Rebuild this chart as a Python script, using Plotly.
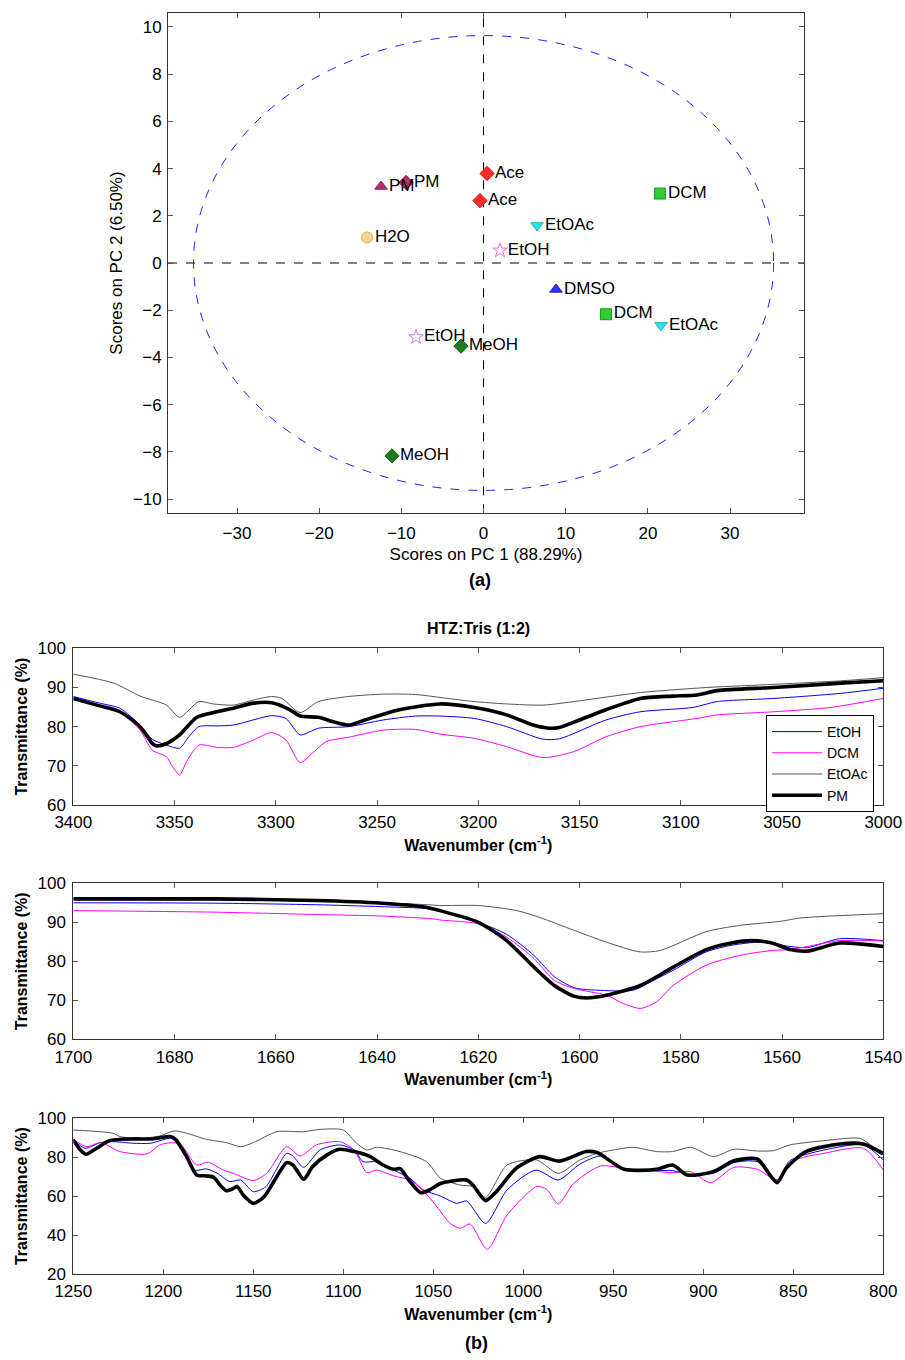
import plotly.graph_objects as go

# ---------------- (a) PCA scores ----------------
sc_labels = ["PM", "PM", "Ace", "Ace", "DCM", "EtOAc", "H2O", "EtOH",
             "DMSO", "DCM", "EtOAc", "EtOH", "MeOH", "MeOH"]
sc_pc1 = [-12.47, -9.43, 0.43, -0.43, 21.48, 6.51, -14.18, 2.0,
          8.82, 14.9, 21.6, -8.21, -2.74, -11.14]
sc_pc2 = [3.24, 3.41, 3.79, 2.64, 2.94, 1.59, 1.08, 0.53,
          -1.12, -2.17, -2.64, -3.14, -3.52, -8.17]
sc_symbols = ["triangle-up", "diamond", "diamond", "diamond", "square", "triangle-down",
              "circle", "star-open", "triangle-up", "square", "triangle-down", "star-open",
              "diamond", "diamond"]
sc_colors = ["#b0306a", "#b0306a", "#ff2a2a", "#ff2a2a", "#33cc33", "#30e0e8",
             "#f8d890", "#e070e0", "#3030ff", "#33cc33", "#30e0e8", "#e070e0",
             "#1e7b1e", "#1e7b1e"]
sc_lines = ["#8a1f50", "#8a1f50", "#e01010", "#e01010", "#1f9a1f", "#20b8c0",
            "#e0a850", "#e070e0", "#2020c0", "#1f9a1f", "#20b8c0", "#e070e0",
            "#145a14", "#145a14"]
ellipse_a = 35.3
ellipse_b = 9.63

# ---------------- (b) FTIR spectra ----------------
# Panel 1: 3400-3000
p1_etoh_w = [3400, 3387, 3377, 3367, 3361, 3354, 3347.5, 3343, 3338, 3329, 3321, 3302, 3295, 3288,
             3279, 3264, 3247, 3231, 3219, 3202, 3186, 3168, 3160, 3137, 3120, 3094, 3082, 3054,
             3021, 3000]
p1_etoh_t = [87.7, 86.0, 84.7, 80.4, 76.8, 75.3, 74.5, 77.4, 80.0, 80.2, 80.4, 82.8, 82.1, 77.9,
             79.6, 80.0, 81.7, 82.7, 82.7, 82.1, 80.0, 76.8, 76.9, 81.7, 83.8, 84.9, 86.4, 87.2,
             88.5, 89.8]
p1_dcm_w = [3400, 3387, 3377, 3367, 3361, 3354, 3351, 3347.5, 3344, 3338, 3329, 3321, 3311, 3302,
            3295, 3288, 3282, 3275, 3264, 3247, 3231, 3219, 3202, 3186, 3168, 3153, 3137, 3120,
            3092, 3082, 3054, 3026, 3000]
p1_dcm_t = [87.2, 85.5, 83.8, 79.1, 74.0, 72.3, 69.8, 67.7, 71.1, 75.3, 74.7, 74.7, 76.6, 78.5,
            76.6, 70.8, 73.2, 76.2, 77.3, 79.1, 79.3, 78.1, 77.0, 74.9, 72.1, 73.6, 77.4, 80.0,
            82.1, 83.0, 83.8, 84.9, 87.2]
p1_etoac_w = [3400, 3380, 3367, 3354, 3347.5, 3338, 3331, 3321, 3311, 3302, 3297, 3288, 3279,
              3264, 3247, 3231, 3215, 3202, 3186, 3168, 3150, 3120, 3087, 3054, 3021, 3000]
p1_etoac_t = [93.4, 91.1, 87.8, 85.5, 82.4, 86.4, 85.8, 85.5, 86.8, 87.7, 87.2, 83.6, 86.4,
              87.7, 88.3, 88.2, 87.2, 86.4, 85.8, 85.5, 86.6, 88.7, 90.0, 90.8, 91.7, 92.5]
p1_pm_w = [3400, 3387, 3377, 3367, 3361, 3359, 3354, 3347.5, 3339, 3329, 3321, 3311, 3302, 3293,
           3288, 3279, 3272, 3264, 3256, 3239, 3219, 3202, 3186, 3173, 3165, 3160, 3150, 3137,
           3120, 3104, 3092, 3082, 3054, 3021, 3000]
p1_pm_t = [87.2, 85.3, 83.8, 80.0, 75.7, 75.1, 75.7, 77.9, 82.4, 83.8, 84.7, 86.0, 86.1, 84.3,
           82.7, 82.4, 81.3, 80.4, 81.7, 84.3, 85.8, 84.9, 83.0, 80.4, 79.6, 79.8, 81.7, 84.3,
           87.2, 87.8, 88.1, 89.2, 90.0, 91.1, 91.7]

# Panel 2: 1700-1540
p2_etoh_w = [1700, 1672, 1652, 1639, 1629, 1627.6, 1620, 1614.4, 1609, 1605, 1601, 1596.6, 1589.4,
             1585.4, 1581.5, 1575, 1570, 1564.4, 1558.4, 1555, 1548.6, 1540]
p2_etoh_t = [95.0, 94.9, 94.5, 94.0, 93.4, 92.8, 90.0, 86.9, 81.5, 76.1, 73.2, 72.6, 72.6,
             75.1, 77.7, 82.4, 84.1, 84.9, 83.8, 83.5, 85.8, 85.3]
p2_dcm_w = [1700, 1672, 1652, 1639, 1629, 1627.6, 1620, 1614.4, 1609, 1605, 1601, 1594.7, 1591.4,
            1588, 1584.8, 1581.5, 1575, 1568.4, 1561.8, 1558.4, 1555, 1548.6, 1540]
p2_dcm_t = [93.0, 92.6, 92.0, 91.6, 90.9, 90.6, 89.6, 86.2, 80.7, 75.1, 73.0, 71.3, 69.2,
            67.9, 69.6, 73.8, 79.0, 81.5, 82.8, 83.0, 83.8, 85.3, 85.2]
p2_etoac_w = [1700, 1660, 1640, 1630, 1627.6, 1620, 1612.4, 1608, 1601, 1594.7, 1588, 1584, 1575,
              1568.4, 1560, 1556.5, 1540]
p2_etoac_t = [95.8, 95.6, 95.0, 94.5, 94.3, 94.3, 93.0, 91.3, 87.9, 84.9, 82.4, 82.8, 87.6,
              89.2, 90.3, 91.1, 92.2]
p2_pm_w = [1700, 1672, 1652, 1639, 1631, 1627.6, 1620, 1614.4, 1609, 1605, 1601, 1598.6, 1594.7,
           1588, 1581.5, 1575, 1570, 1566, 1562, 1558.4, 1555, 1548.6, 1540]
p2_pm_t = [96.0, 96.0, 95.6, 94.9, 94.0, 93.0, 90.0, 85.3, 78.5, 73.8, 71.0, 70.6, 71.3,
           73.8, 78.5, 83.0, 84.7, 85.3, 84.7, 83.0, 82.6, 84.7, 83.8]

# Panel 3: 1250-800
p3_etoh_w = [1250, 1243.5, 1235, 1228, 1217, 1207, 1196, 1192, 1183, 1176, 1170, 1163, 1157, 1150,
             1143, 1131.5, 1128, 1122, 1113, 1102, 1094, 1089, 1081.5, 1072, 1063, 1056, 1046,
             1037, 1031.5, 1021, 1009, 993, 980.6, 968.5, 957, 944, 917, 909, 894.4, 883, 870,
             859, 852, 833, 811, 800]
p3_etoh_t = [89.2, 84.6, 87.5, 88.0, 87.2, 87.2, 89.7, 87.5, 73.4, 74.0, 71.7, 67.5, 68.3, 62.3,
             64.9, 82.0, 80.6, 74.8, 83.7, 86.3, 83.7, 77.7, 77.7, 73.4, 69.2, 63.5, 60.0,
             56.3, 57.5, 46.0, 63.2, 73.4, 68.3, 76.5, 80.6, 73.4, 73.1, 71.4, 71.7, 77.2, 77.7,
             68.3, 78.2, 83.7, 86.3, 78.6]
p3_dcm_w = [1250, 1242.6, 1235, 1224, 1209, 1202, 1194, 1190, 1181.5, 1175, 1166.7, 1161, 1150,
            1142.6, 1131.5, 1124, 1115, 1102, 1094, 1087, 1081.5, 1072, 1063, 1055.6, 1048,
            1040.7, 1035, 1029.6, 1020, 1009, 992.6, 987, 980.6, 972, 957, 944, 917, 907, 896,
            883, 870, 859, 850, 833, 811, 800]
p3_dcm_t = [89.2, 85.4, 87.5, 82.9, 81.7, 86.3, 87.5, 86.3, 76.0, 77.4, 73.4, 71.7, 68.0,
            71.7, 85.4, 80.6, 86.3, 88.0, 83.7, 72.1, 73.4, 70.4, 68.3, 62.8, 54.6,
            46.0, 43.5, 45.7, 32.7, 50.3, 64.9, 63.5, 56.0, 66.6, 75.5, 74.3, 72.1, 72.6, 66.9,
            74.8, 73.8, 68.3, 78.2, 82.0, 84.6, 73.4]
p3_etoac_w = [1250, 1235, 1228, 1224, 1213, 1202, 1194, 1187, 1176, 1165, 1157, 1150, 1137, 1122,
              1113, 1100, 1092.6, 1087, 1081.5, 1068.5, 1053.7, 1046, 1035, 1028, 1021, 1009,
              992.6, 980.6, 968.5, 959, 950, 939, 926, 917, 907, 894.4, 883, 870, 861, 852, 833,
              813, 805.6, 800]
p3_etoac_t = [94.0, 93.1, 92.3, 90.6, 89.7, 90.9, 93.5, 92.3, 89.2, 87.5, 85.4, 87.5, 93.1, 93.1,
              94.3, 94.0, 87.2, 83.7, 85.1, 82.9, 77.7, 69.2, 65.7, 64.9, 59.4, 76.0,
              78.6, 71.7, 78.6, 82.0, 83.7, 85.1, 82.9, 82.9, 85.1, 80.3, 84.1, 83.2, 83.4, 86.3,
              88.5, 89.7, 85.4, 82.9]
p3_pm_w = [1250, 1246, 1243, 1237, 1230, 1217, 1206, 1196, 1193, 1187, 1181.5, 1176, 1172, 1168.5,
           1165, 1161, 1159, 1155.6, 1150, 1144, 1137, 1131.5, 1128, 1122, 1117, 1109, 1102, 1094,
           1085, 1078, 1072, 1068.5, 1063, 1057, 1052, 1046, 1031.5, 1028, 1021, 1015, 1004, 991,
           980, 965, 959, 944, 926, 917, 909, 894.4, 883, 870, 863, 859, 854, 843, 824, 811, 800]
p3_pm_t = [88.9, 83.7, 81.5, 84.6, 88.5, 89.4, 89.4, 90.6, 88.9, 80.3, 70.9, 70.4, 69.7, 65.7,
           62.8, 64.0, 64.9, 60.6, 56.3, 59.7, 70.0, 77.2, 76.0, 68.7, 75.2, 81.2, 84.1, 82.9,
           80.3, 76.0, 73.8, 74.1, 67.5, 61.8, 63.2, 66.5, 68.3, 65.7, 57.7, 62.3, 74.3, 80.3,
           78.0, 82.9, 82.4, 73.8, 73.8, 76.0, 70.9, 72.6, 78.2, 79.1, 70.9, 66.9, 74.3, 82.9,
           86.8, 86.8, 81.7]

series_names = ["EtOH", "DCM", "EtOAc", "PM"]
series_colors = ["#0000ff", "#ff00ff", "#555555", "#000000"]
series_widths = [1, 1, 1, 3.6]

FONT = "Liberation Sans, Arial, sans-serif"
W, H = 905, 1360

fig = go.Figure()

# scatter
fig.add_trace(go.Scatter(
    x=sc_pc1, y=sc_pc2, mode="markers+text", text=sc_labels, textposition="middle right",
    textfont=dict(family=FONT, size=17, color="#000000"),
    marker=dict(symbol=sc_symbols, color=sc_colors, size=11,
                line=dict(color=sc_lines, width=1)),
    showlegend=False, xaxis="x", yaxis="y", cliponaxis=False))

panels = [
    ("x2", "y2", [(p1_etoh_w, p1_etoh_t), (p1_dcm_w, p1_dcm_t), (p1_etoac_w, p1_etoac_t), (p1_pm_w, p1_pm_t)], True),
    ("x3", "y3", [(p2_etoh_w, p2_etoh_t), (p2_dcm_w, p2_dcm_t), (p2_etoac_w, p2_etoac_t), (p2_pm_w, p2_pm_t)], False),
    ("x4", "y4", [(p3_etoh_w, p3_etoh_t), (p3_dcm_w, p3_dcm_t), (p3_etoac_w, p3_etoac_t), (p3_pm_w, p3_pm_t)], False),
]
for xa, ya, data, show in panels:
    for (w, t), nm, col, lw in zip(data, series_names, series_colors, series_widths):
        fig.add_trace(go.Scatter(
            x=w, y=t, mode="lines", name=nm, legendgroup=nm, showlegend=show,
            line=dict(color=col, width=lw, shape="spline", smoothing=0.7),
            xaxis=xa, yaxis=ya))

def ax(domain, rng, dtick, title=None, **kw):
    d = dict(domain=domain, range=rng, showline=True, linecolor="#333333", linewidth=1,
             mirror="ticks", ticks="inside", ticklen=5, tickcolor="#555555",
             showgrid=False, zeroline=False, dtick=dtick, automargin=False,
             tickfont=dict(family=FONT, size=17, color="#000000"))
    if title is not None:
        d["title"] = title
    d.update(kw)
    return d

def px_x(a, b):
    return [a / W, b / W]

def px_y(top, bottom):
    return [1 - bottom / H, 1 - top / H]

tfont = dict(family=FONT, size=17, color="#000000")
bfont = dict(family=FONT, size=16, color="#000000", weight="bold")

fig.update_layout(
    width=W, height=H, margin=dict(l=0, r=0, t=0, b=0, autoexpand=False),
    paper_bgcolor="white", plot_bgcolor="white",
    font=dict(family=FONT, color="#000000"),
    xaxis=ax(px_x(168, 804), [-38.4, 39.0], 10,
             title=dict(text="Scores on PC 1 (88.29%)", font=tfont, standoff=6),
             anchor="y", ticklabelstandoff=4),
    yaxis=ax(px_y(12.7, 513.3), [-10.6, 10.6], 2,
             title=dict(text="Scores on PC 2 (6.50%)", font=tfont, standoff=5),
             anchor="x", ticklabelstandoff=2),
    xaxis2=ax(px_x(73.3, 883.3), [3400, 3000], 50,
              title=dict(text="Wavenumber (cm<sup>-1</sup>)", font=bfont, standoff=8),
              anchor="y2", ticklabelstandoff=2),
    yaxis2=ax(px_y(648.3, 805), [60, 100], 10,
              title=dict(text="Transmittance (%)", font=bfont, standoff=5), anchor="x2",
              ticklabelstandoff=3),
    xaxis3=ax(px_x(73.3, 883.3), [1700, 1540], 20,
              title=dict(text="Wavenumber (cm<sup>-1</sup>)", font=bfont, standoff=8),
              anchor="y3", ticklabelstandoff=2),
    yaxis3=ax(px_y(883.3, 1039.3), [60, 100], 10,
              title=dict(text="Transmittance (%)", font=bfont, standoff=5), anchor="x3",
              ticklabelstandoff=3),
    xaxis4=ax(px_x(73.3, 883.3), [1250, 800], 50,
              title=dict(text="Wavenumber (cm<sup>-1</sup>)", font=bfont, standoff=8),
              anchor="y4", ticklabelstandoff=2),
    yaxis4=ax(px_y(1118.3, 1274), [20, 100], 20,
              title=dict(text="Transmittance (%)", font=bfont, standoff=5), anchor="x4",
              ticklabelstandoff=3),
    legend=dict(x=874 / W, y=1 - 715 / H, xanchor="right", yanchor="top",
                bgcolor="white", bordercolor="#000000", borderwidth=1,
                font=dict(family=FONT, size=14, color="#000000"),
                tracegroupgap=0, itemwidth=50),
    shapes=[
        dict(type="circle", xref="x", yref="y", x0=-ellipse_a, x1=ellipse_a,
             y0=-ellipse_b, y1=ellipse_b, line=dict(color="#2020ff", width=1, dash="dash"),
             layer="below"),
        dict(type="line", xref="x", yref="paper", x0=0, x1=0,
             y0=px_y(12.7, 513.3)[0], y1=px_y(12.7, 513.3)[1],
             line=dict(color="#000000", width=1, dash="dash"), layer="below"),
        dict(type="line", xref="paper", yref="y", x0=168 / W, x1=804 / W, y0=0, y1=0,
             line=dict(color="#000000", width=1, dash="dash"), layer="below"),
    ],
    annotations=[
        dict(text="(a)", x=480 / W, y=1 - 580 / H, xref="paper", yref="paper",
             yanchor="middle", showarrow=False,
             font=dict(family=FONT, size=18, color="#000000", weight="bold")),
        dict(text="(b)", x=476 / W, y=1 - 1343 / H, xref="paper", yref="paper",
             yanchor="middle", showarrow=False,
             font=dict(family=FONT, size=18, color="#000000", weight="bold")),
        dict(text="HTZ:Tris (1:2)", x=478 / W, y=1 - 628 / H, xref="paper", yref="paper",
             yanchor="middle", showarrow=False,
             font=dict(family=FONT, size=16, color="#000000", weight="bold")),
    ],
)

fig.write_html("out.html")
